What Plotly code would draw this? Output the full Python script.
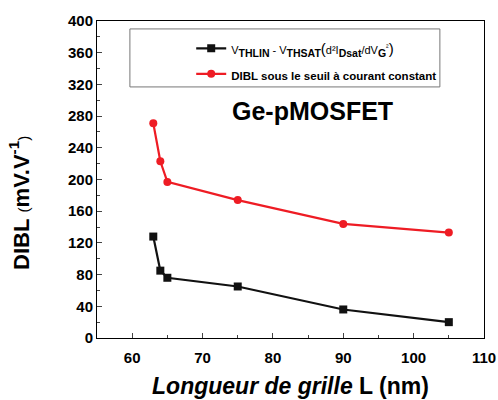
import plotly.graph_objects as go

# Gate length (nm) and DIBL values (mV/V)
gate_length = [63, 64, 65, 75, 90, 105]
dibl_vth_extraction = [128, 85, 76, 65, 36, 20]
dibl_subthreshold = [271, 223, 197, 174, 144, 133]

x_ticks = [60, 70, 80, 90, 100, 110]
y_ticks = [0, 40, 80, 120, 160, 200, 240, 280, 320, 360, 400]

FONT = "Liberation Sans, Arial, sans-serif"


def base(t):
    return f"<span style='font-size:11px'>{t}</span>"


def sub(t):
    return f"<sub><b>{t}</b></sub>"


# Legend font is 15px, so subscripts come out at ~10.5px while body text is 11px
vth_label = (base("V") + sub("THLIN") + base(" - V") + sub("THSAT") + "("
             + base("d²I") + sub("Dsat") + base("/dV") + sub("G")
             + base("<sup>²</sup>") + ")")

fig = go.Figure()
fig.add_trace(go.Scatter(
    x=gate_length, y=dibl_vth_extraction, mode="lines+markers",
    name=vth_label, legendgroup="a",
    line=dict(color="#111111", width=2.2),
    marker=dict(symbol="square", size=8, color="#111111"),
))
fig.add_trace(go.Scatter(
    x=gate_length, y=dibl_subthreshold, mode="lines+markers",
    name="<span style='font-size:11.5px'><b>DIBL sous le seuil à courant constant</b></span>",
    legendgroup="b",
    line=dict(color="#ee1c24", width=2.2),
    marker=dict(symbol="circle", size=8, color="#ee1c24"),
))

# Legend frame
fig.add_shape(type="rect", xref="paper", yref="paper",
              x0=0.085, x1=0.886, y0=0.792, y1=0.975,
              line=dict(color="#777777", width=1), fillcolor="white", layer="below")

fig.add_annotation(x=0.556, y=0.716, xref="paper", yref="paper",
                   xanchor="center", yanchor="middle",
                   text="<b>Ge-pMOSFET</b>", showarrow=False,
                   font=dict(size=25, color="black", family=FONT))

# Vertical axis title
fig.add_annotation(x=-0.2, y=0.425, xref="paper", yref="paper",
                   xanchor="center", yanchor="middle", textangle=-90,
                   text="<b>DIBL</b> <span style='font-size:15px'>(</span><b>mV.V<sup>-1</sup></b><span style='font-size:15px'>)</span>",
                   showarrow=False,
                   font=dict(size=22, color="black", family=FONT))

fig.update_layout(
    width=498, height=400,
    margin=dict(l=97, r=14, t=21, b=62, autoexpand=False),
    plot_bgcolor="white", paper_bgcolor="white",
    font=dict(family=FONT, color="black"),
    showlegend=True,
    legend=dict(x=0.892, y=0.965, xanchor="right", yanchor="top",
                bgcolor="rgba(0,0,0,0)", borderwidth=0,
                font=dict(size=15, family=FONT, color="black"),
                traceorder="grouped", tracegroupgap=3, itemwidth=30),
)

fig.update_xaxes(
    range=[55, 110], tickmode="array", tickvals=x_ticks,
    ticktext=[f"<b>{v}</b>" for v in x_ticks],
    ticks="inside", ticklen=5,
    minor=dict(dtick=5, ticks="inside", ticklen=3, tick0=55),
    showline=True, linecolor="black", linewidth=1, mirror=True,
    showgrid=False, zeroline=False, automargin=False,
    tickfont=dict(size=15, family=FONT, weight="bold"), ticklabelstandoff=6,
    title=dict(text="<b><i>Longueur de grille</i> L (nm)</b>",
               font=dict(size=23, family=FONT), standoff=12),
)
fig.update_yaxes(
    range=[0, 400], tickmode="array", tickvals=y_ticks,
    ticktext=[f"<b>{v}</b>" for v in y_ticks],
    ticks="inside", ticklen=5,
    minor=dict(dtick=20, ticks="inside", ticklen=3),
    showline=True, linecolor="black", linewidth=1, mirror=True,
    showgrid=False, zeroline=False, automargin=False,
    tickfont=dict(size=15, family=FONT, weight="bold"),
)

fig.write_html("out.html")
